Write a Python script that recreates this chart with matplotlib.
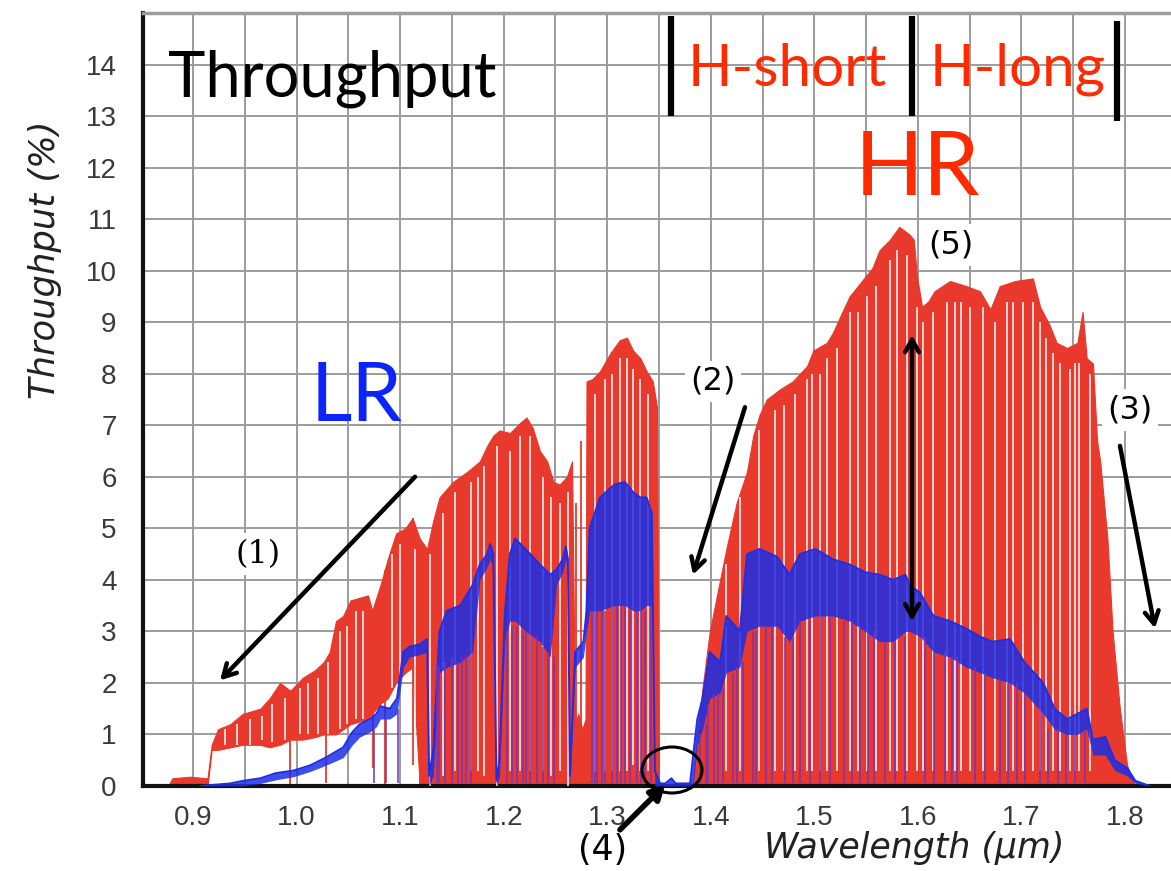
import numpy as np
import matplotlib.pyplot as plt
from matplotlib.patches import Ellipse

# HR (red) spectrum: upper envelope and floor of the solid band, wavelength in um
red_wl = [0.876, 0.880, 0.897, 0.914, 0.918, 0.924, 0.936, 0.948, 0.965, 0.974,
          0.984, 0.994, 1.006, 1.018, 1.026, 1.032, 1.038, 1.045, 1.052, 1.069,
          1.073, 1.081, 1.088, 1.096, 1.105, 1.112, 1.119, 1.126, 1.132, 1.138,
          1.151, 1.165, 1.177, 1.184, 1.190, 1.196, 1.206, 1.216, 1.222, 1.228,
          1.235, 1.242, 1.248, 1.254, 1.261, 1.266, 1.269, 1.272, 1.276, 1.279,
          1.280, 1.286, 1.293, 1.303, 1.312, 1.319, 1.325, 1.332, 1.338, 1.344,
          1.348, 1.350,
          1.383, 1.387, 1.392, 1.399, 1.406, 1.415, 1.425, 1.435, 1.441, 1.447,
          1.454, 1.467, 1.479, 1.493, 1.499, 1.512, 1.518, 1.527, 1.534, 1.544,
          1.556, 1.563, 1.573, 1.582, 1.592, 1.596, 1.599, 1.604, 1.610, 1.616,
          1.631, 1.647, 1.660, 1.670, 1.679, 1.694, 1.711, 1.718, 1.727, 1.734,
          1.744, 1.754, 1.759, 1.763, 1.769, 1.773, 1.776, 1.783, 1.788, 1.795,
          1.802, 1.810]
red_top = [0.0, 0.15, 0.18, 0.15, 0.8, 1.1, 1.2, 1.4, 1.5, 1.7,
           2.0, 1.85, 2.1, 2.25, 2.4, 2.6, 3.2, 3.3, 3.6, 3.7,
           3.4, 3.9, 4.4, 4.9, 5.0, 5.2, 4.8, 4.6, 5.15, 5.6,
           5.9, 6.1, 6.3, 6.6, 6.8, 6.9, 6.85, 7.05, 7.15, 6.95,
           6.5, 6.3, 5.9, 5.85, 6.0, 6.3, 1.2, 1.4, 1.1, 1.3,
           7.85, 7.9, 8.05, 8.4, 8.65, 8.7, 8.45, 8.3, 8.05, 7.85,
           7.35, 0.0,
           0.0, 1.0, 1.9, 3.0, 3.7, 4.6, 5.5, 6.1, 6.8, 7.2,
           7.5, 7.7, 7.85, 8.15, 8.45, 8.6, 8.8, 9.2, 9.5, 9.75,
           10.05, 10.4, 10.6, 10.85, 10.7, 10.6, 9.9, 9.3, 9.4, 9.6,
           9.8, 9.7, 9.6, 9.25, 9.7, 9.8, 9.85, 9.3, 8.95, 8.6,
           8.5, 8.6, 9.2, 8.3, 8.2, 6.7, 6.3, 4.8, 3.0, 1.5,
           0.4, 0.0]
red_low = [0.0, 0.0, 0.0, 0.0, 0.7, 0.7, 0.75, 0.8, 0.8, 0.75,
           0.8, 0.9, 0.9, 0.95, 1.0, 1.0, 1.0, 1.1, 1.2, 1.3,
           1.4, 1.6, 1.7, 2.0, 2.2, 2.3] + [0.0] * 36 + [0.0] * 52

# clear continuum gaps between HR absorption lines
gap_wl = [0.942, 0.967, 0.989, 1.003, 1.021, 1.042, 1.057, 1.064, 1.114, 1.129,
          1.141, 1.175, 1.181, 1.194, 1.206, 1.238, 1.246, 1.254, 1.262, 1.305,
          1.319, 1.325, 1.332, 1.339,
          0.931, 0.955, 0.976, 1.011, 1.030, 1.049, 1.092, 1.100, 1.153, 1.168,
          1.216, 1.225, 1.288, 1.298, 1.312,
          1.415, 1.447, 1.462, 1.481, 1.493, 1.498, 1.512, 1.522, 1.534, 1.551,
          1.573, 1.589, 1.599, 1.605, 1.615, 1.628, 1.650, 1.663, 1.686, 1.692,
          1.701, 1.711, 1.724, 1.737, 1.747, 1.756, 1.766,
          1.428, 1.471, 1.505, 1.542, 1.560, 1.580, 1.636, 1.642, 1.674, 1.718,
          1.730, 1.752]
gap_lo = [0.8, 0.9, 0.9, 1.0, 1.0, 1.1, 1.3, 1.3, 0.3, 0.0,
          0.2, 0.3, 0.2, 0.0, 0.3, 0.3, 0.2, 0.3, 0.0, 0.3,
          0.3, 0.4, 0.3, 0.3,
          0.8, 0.8, 0.85, 1.0, 1.0, 1.2, 1.9, 2.1, 0.3, 0.3,
          0.3, 0.3, 0.3, 0.3, 0.3] + [0.3] * 39
gap_hi = [1.2, 1.35, 1.7, 1.9, 2.1, 3.0, 3.4, 3.4, 4.6, 4.5,
          5.3, 6.0, 6.2, 6.6, 6.5, 6.0, 5.6, 5.5, 5.7, 8.0,
          8.3, 8.1, 7.9, 7.6,
          1.1, 1.3, 1.6, 2.0, 2.4, 3.1, 4.5, 4.7, 5.7, 5.9,
          6.8, 6.8, 7.6, 7.9, 8.3,
          4.3, 6.9, 7.3, 7.6, 7.9, 8.0, 8.3, 8.5, 9.2, 9.5,
          10.2, 10.3, 9.3, 9.0, 9.2, 9.4, 9.3, 9.3, 9.4, 9.4,
          9.4, 9.4, 8.7, 8.2, 8.1, 8.2, 8.0,
          5.6, 7.4, 8.0, 9.2, 9.7, 10.4, 9.4, 9.4, 9.0, 9.0,
          8.4, 8.2]

# isolated deep HR lines
line_wl = [0.994, 1.028, 1.074, 1.085, 1.112, 1.119, 1.270, 1.275]
line_lo = [0.0, 0.05, 0.35, 0.0, 0.4, 0.0, 0.0, 0.0]
line_hi = [1.8, 2.4, 3.4, 4.2, 5.2, 4.8, 5.5, 6.7]

# LR (blue) spectrum: top and bottom of the band
blue_wl = [0.907, 0.936, 0.948, 0.965, 0.980, 0.997, 1.013, 1.028, 1.045, 1.054,
           1.061, 1.071, 1.077, 1.081, 1.090, 1.097, 1.103, 1.109, 1.119, 1.126,
           1.128, 1.132, 1.138, 1.145, 1.158, 1.170, 1.177, 1.184, 1.187, 1.190,
           1.193, 1.196, 1.201, 1.206, 1.211, 1.221, 1.235, 1.245, 1.251, 1.257,
           1.260, 1.262, 1.264, 1.269, 1.277, 1.280, 1.283, 1.293, 1.307, 1.317,
           1.325, 1.332, 1.338, 1.343, 1.346, 1.351, 1.356, 1.362, 1.366, 1.380,
           1.383, 1.387, 1.392, 1.399, 1.409, 1.415, 1.428, 1.435, 1.447, 1.464,
           1.476, 1.486, 1.501, 1.518, 1.534, 1.549, 1.563, 1.576, 1.588, 1.592,
           1.602, 1.615, 1.631, 1.647, 1.660, 1.672, 1.689, 1.703, 1.721, 1.732,
           1.744, 1.754, 1.763, 1.769, 1.781, 1.790, 1.802, 1.810, 1.824]
blue_top = [0.0, 0.05, 0.1, 0.15, 0.25, 0.3, 0.4, 0.55, 0.75, 1.05,
            1.2, 1.3, 1.4, 1.55, 1.5, 1.7, 2.6, 2.7, 2.75, 2.85,
            0.2, 0.7, 3.0, 3.4, 3.5, 3.9, 4.3, 4.5, 4.7, 4.5,
            0.1, 0.5, 3.3, 4.5, 4.8, 4.6, 4.3, 4.1, 4.2, 4.4,
            4.65, 4.4, 0.2, 2.6, 2.8, 3.4, 5.0, 5.6, 5.85, 5.9,
            5.7, 5.6, 5.6, 5.3, 0.3, 0.05, 0.05, 0.15, 0.05, 0.05,
            0.6, 1.3, 1.7, 2.6, 2.4, 3.3, 3.0, 4.5, 4.6, 4.45,
            4.1, 4.5, 4.6, 4.4, 4.3, 4.15, 4.1, 4.0, 4.1, 3.9,
            3.75, 3.3, 3.2, 3.05, 2.9, 2.8, 2.85, 2.4, 2.0, 1.5,
            1.3, 1.4, 1.5, 0.9, 0.95, 0.5, 0.35, 0.1, 0.0]
blue_low = [0.0, 0.0, 0.0, 0.05, 0.12, 0.18, 0.28, 0.4, 0.55, 0.8,
            0.95, 1.05, 1.15, 1.3, 1.3, 1.4, 2.3, 2.5, 2.55, 2.6,
            0.0, 0.2, 2.2, 2.3, 2.4, 2.6, 4.0, 4.25, 4.4, 4.2,
            0.0, 0.2, 2.8, 3.2, 3.2, 3.0, 2.8, 2.5, 3.9, 4.15,
            4.4, 4.15, 0.0, 2.3, 2.5, 3.0, 3.4, 3.4, 3.5, 3.5,
            3.4, 3.4, 3.5, 3.5, 0.0, 0.0, 0.0, 0.0, 0.0, 0.0,
            0.0, 0.8, 1.1, 1.7, 1.8, 2.2, 2.3, 3.0, 3.1, 3.1,
            2.8, 3.2, 3.3, 3.3, 3.2, 3.0, 2.8, 2.8, 3.0, 3.0,
            2.9, 2.6, 2.5, 2.3, 2.2, 2.1, 2.0, 1.8, 1.4, 1.1,
            1.0, 1.0, 1.1, 0.6, 0.6, 0.3, 0.2, 0.05, 0.0]

# deep LR lines (blue over red, seen as purple)
dip_wl = [1.075, 1.086, 1.098, 1.136, 1.143, 1.150, 1.156, 1.164, 1.168, 1.203,
          1.213, 1.219, 1.225, 1.232, 1.243, 1.249, 1.285, 1.290, 1.298, 1.305,
          1.313, 1.322, 1.329, 1.336, 1.342, 1.390, 1.395, 1.403, 1.412, 1.421,
          1.431, 1.441, 1.453, 1.472, 1.486, 1.505, 1.529, 1.544, 1.558, 1.578,
          1.588, 1.607, 1.626, 1.638, 1.655, 1.679, 1.696, 1.718, 1.735, 1.752,
          1.761,
          1.138, 1.160, 1.208, 1.222, 1.238, 1.288, 1.295, 1.309, 1.317, 1.333,
          1.397, 1.407, 1.425, 1.444, 1.459, 1.479, 1.496, 1.515, 1.536, 1.552,
          1.568, 1.616, 1.633, 1.665, 1.687, 1.703, 1.726, 1.743]
dip_hi = [1.1, 1.3, 1.5, 2.4, 2.4, 2.5, 2.4, 2.5, 2.6, 3.0,
          3.1, 3.0, 3.0, 2.9, 2.6, 2.5, 3.4, 3.4, 3.4, 3.5,
          3.5, 3.4, 3.4, 3.4, 3.5, 1.0, 1.2, 1.8, 1.9, 2.2,
          2.4, 3.0, 3.1, 2.9, 3.2, 3.3, 3.2, 3.1, 3.0, 2.8,
          2.9, 2.9, 2.6, 2.5, 2.3, 2.1, 2.0, 1.5, 1.1, 1.0,
          1.1,
          2.3, 2.5, 3.1, 3.0, 2.7, 3.4, 3.4, 3.5, 3.5, 3.4,
          1.6, 1.8, 2.3, 3.0, 3.1, 2.9, 3.2, 3.3, 3.2, 3.0,
          2.8, 2.6, 2.5, 2.2, 2.0, 1.8, 1.1, 1.0]

x_ticks = [0.9, 1.0, 1.1, 1.2, 1.3, 1.4, 1.5, 1.6, 1.7, 1.8]
x_grid = [0.9, 0.95, 1.0, 1.05, 1.1, 1.15, 1.2, 1.25, 1.3, 1.35,
          1.4, 1.45, 1.5, 1.55, 1.6, 1.65, 1.7, 1.75, 1.8]
y_ticks = list(range(15))

RED = '#e8392c'
BLUE = '#1c2fe6'
PURPLE = '#7436b8'
TXT_RED = '#ff2a00'
TXT_BLUE = '#0a24fb'

W, H = 1171, 871
fig = plt.figure(figsize=(W / 100, H / 100), dpi=100)


def fx(px):
    return px / W


def fy(py):
    return 1 - py / H


ax = fig.add_axes([fx(143), fy(786), fx(1171) - fx(143), fy(13) - fy(786)])
ax.set_xlim(0.8517, 1.8444)
ax.set_ylim(0, 15)
ax.set_axisbelow(True)

ax.fill_between(red_wl, red_low, red_top, color=RED, lw=0.8, zorder=2)
ax.vlines(line_wl, line_lo, line_hi, color=RED, lw=1.3, zorder=2)
ax.vlines(gap_wl, gap_lo, gap_hi, color='white', lw=1.1, zorder=3)
ax.fill_between(blue_wl, blue_low, blue_top, color=BLUE, lw=0, alpha=0.85, zorder=4)
ax.plot(blue_wl, blue_top, color=BLUE, lw=1.4, zorder=4)
ax.vlines(dip_wl, 0.05, dip_hi, color=PURPLE, lw=1.4, alpha=0.8, zorder=5)

ax.set_xticks(x_ticks)
ax.set_xticklabels([f'{v:.1f}' for v in x_ticks])
ax.set_xticks(x_grid, minor=True)
ax.set_yticks(y_ticks)
ax.grid(True, which='both', color='#9c9c9c', lw=1.4)
ax.tick_params(which='both', length=0)
ax.tick_params(axis='x', pad=14, labelsize=20, labelcolor='#3a3a3a')
ax.tick_params(axis='y', pad=19, labelsize=20, labelcolor='#3a3a3a')
for lab in ax.get_xticklabels() + ax.get_yticklabels():
    lab.set_family('Liberation Sans')
ax.spines['right'].set_visible(False)
ax.spines['top'].set_color('#9c9c9c')
ax.spines['top'].set_linewidth(2.5)
for s in ['left', 'bottom']:
    ax.spines[s].set_linewidth(3)
    ax.spines[s].set_color('#111111')

fig.text(fx(45), fy(260), 'Throughput (%)', rotation=90, style='italic',
         fontsize=25.5, color='#222222', ha='center', va='center')
fig.text(fx(914), fy(848), 'Wavelength (\u03bcm)', style='italic',
         fontsize=25, color='#222222', ha='center', va='center')

# slide annotations
fig.text(fx(168), fy(97), 'Throughput', family='Lato', fontsize=45.5,
         color='black', ha='left', va='baseline')
fig.text(fx(688), fy(86), 'H-short', family='Lato', fontsize=42,
         color=TXT_RED, ha='left', va='baseline')
fig.text(fx(930), fy(86), 'H-long', family='Lato', fontsize=42,
         color=TXT_RED, ha='left', va='baseline')
fig.text(fx(855), fy(195), 'HR', family='Lato', fontsize=65,
         color=TXT_RED, ha='left', va='baseline')
fig.text(fx(311), fy(421), 'LR', family='Lato', fontsize=58,
         color=TXT_BLUE, ha='left', va='baseline')

for xb, y0, y1 in [(1.3616, 13.0, 14.94), (1.5943, 13.0, 14.94), (1.7922, 12.9, 14.85)]:
    ax.plot([xb, xb], [y0, y1], color='black', lw=4.5, clip_on=False,
            solid_capstyle='butt', zorder=6)

box = dict(facecolor='white', edgecolor='none', pad=4)
arrow = dict(arrowstyle='->,head_length=0.9,head_width=0.5', lw=3.2, color='black',
             shrinkA=0, shrinkB=0)
ax.text(0.9628, 4.5, '(1)', family='DejaVu Serif', fontsize=23,
        ha='center', va='center', bbox=box, zorder=7)
ax.annotate('', xy=(0.9261, 2.05), xytext=(1.1144, 6.0), arrowprops=arrow, zorder=7)
ax.text(1.4021, 7.85, '(2)', fontsize=23, ha='center', va='center', bbox=box, zorder=7)
ax.annotate('', xy=(1.3828, 4.1), xytext=(1.4330, 7.35), arrowprops=arrow, zorder=7)
ax.text(1.8048, 7.3, '(3)', fontsize=23, ha='center', va='center', bbox=box, zorder=7)
ax.annotate('', xy=(1.8289, 3.06), xytext=(1.7951, 6.6), arrowprops=arrow, zorder=7)
ax.text(1.6319, 10.5, '(5)', fontsize=23, ha='center', va='center', bbox=box, zorder=7)
ax.annotate('', xy=(1.5943, 3.2), xytext=(1.5943, 8.75),
            arrowprops=dict(arrowstyle='<->,head_length=0.9,head_width=0.5', lw=3.2,
                            color='black', shrinkA=0, shrinkB=0), zorder=7)
ax.text(1.2959, -1.25, '(4)', fontsize=25, ha='center', va='center', clip_on=False)
ax.annotate('', xy=(1.3558, 0.02), xytext=(1.3123, -0.85),
            arrowprops=dict(arrowstyle='-|>,head_length=0.8,head_width=0.45', lw=4,
                            color='black', shrinkA=0, shrinkB=0),
            annotation_clip=False, zorder=7)
ax.add_patch(Ellipse((fx(672), fy(770)), fx(60), 46 / H, transform=fig.transFigure,
                     fill=False, edgecolor='black', lw=2.2, clip_on=False, zorder=7))

fig.savefig('out.png', dpi=100)
